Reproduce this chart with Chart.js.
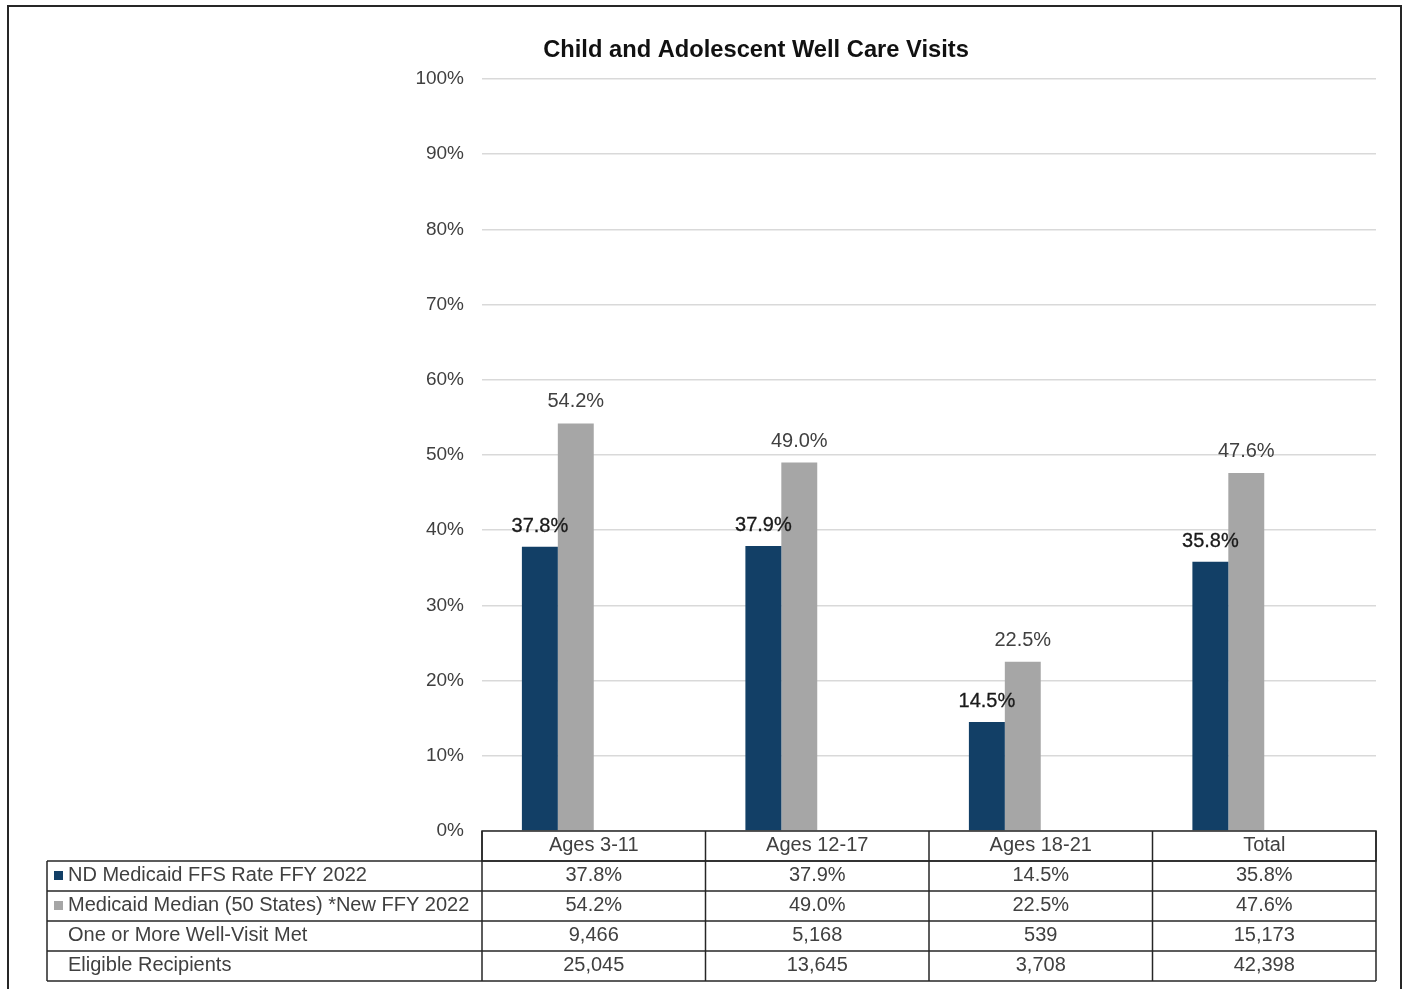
<!DOCTYPE html>
<html>
<head>
<meta charset="utf-8">
<title>Child and Adolescent Well Care Visits</title>
<script src="https://cdn.jsdelivr.net/npm/chart.js@4.4.1/dist/chart.umd.min.js"></script>
<style>
  html, body { margin: 0; padding: 0; background: #fff; overflow: hidden; }
  canvas { display: block; }
</style>
</head>
<body>
<canvas id="wellCareChart" width="1410" height="989"></canvas>
<script>
const chartTitle = 'Child and Adolescent Well Care Visits';
const categories = ['Ages 3-11', 'Ages 12-17', 'Ages 18-21', 'Total'];
const seriesNames = [
    'ND Medicaid FFS Rate FFY 2022',
    'Medicaid Median (50 States) *New FFY 2022',
    'One or More Well-Visit Met',
    'Eligible Recipients'
];
const ndRate = [37.8, 37.9, 14.5, 35.8];
const medianRate = [54.2, 49.0, 22.5, 47.6];
const wellVisitMet = [9466, 5168, 539, 15173];
const eligibleRecipients = [25045, 13645, 3708, 42398];
const yTicks = [0, 10, 20, 30, 40, 50, 60, 70, 80, 90, 100];

const navy = '#123f66';
const grey = '#a6a6a6';
const fontFamily = "'Liberation Sans', Arial, sans-serif";

const pct = v => v.toFixed(1) + '%';
const count = v => v.toLocaleString('en-US');

// rows of the data table under the plot
const tableRows = [
    { name: seriesNames[0], key: navy, cells: ndRate.map(pct) },
    { name: seriesNames[1], key: grey, cells: medianRate.map(pct) },
    { name: seriesNames[2], key: null, cells: wellVisitMet.map(count) },
    { name: seriesNames[3], key: null, cells: eligibleRecipients.map(count) }
];

const frameAndTitle = {
    id: 'frameAndTitle',
    beforeDraw(chart) {
        const ctx = chart.ctx;
        ctx.save();
        ctx.fillStyle = '#ffffff';
        ctx.fillRect(0, 0, chart.width, chart.height);
        ctx.restore();
    },
    afterDraw(chart) {
        const ctx = chart.ctx;
        ctx.save();
        ctx.strokeStyle = '#262626';
        ctx.lineWidth = 2;
        ctx.strokeRect(8, 6, 1393, chart.height + 20);
        ctx.fillStyle = '#111111';
        ctx.font = 'bold 23.7px ' + fontFamily;
        ctx.textAlign = 'center';
        ctx.textBaseline = 'middle';
        ctx.fillText(chartTitle, 756, 50);
        ctx.restore();
    }
};

const barLabels = {
    id: 'barLabels',
    afterDatasetsDraw(chart) {
        const ctx = chart.ctx;
        ctx.save();
        ctx.font = '20px ' + fontFamily;
        ctx.textAlign = 'center';
        ctx.textBaseline = 'alphabetic';
        [0, 1].forEach(i => {
            const meta = chart.getDatasetMeta(i);
            const values = chart.data.datasets[i].data;
            ctx.fillStyle = i === 0 ? '#1a1a1a' : '#404040';
            ctx.strokeStyle = '#1a1a1a';
            ctx.lineWidth = 0.3;
            meta.data.forEach((bar, j) => {
                const y = bar.y - (i === 0 ? 15 : 16);
                ctx.fillText(pct(values[j]), bar.x, y);
                // navy series labels look a touch heavier in the original
                if (i === 0) ctx.strokeText(pct(values[j]), bar.x, y);
            });
        });
        ctx.restore();
    }
};

const dataTable = {
    id: 'dataTable',
    afterDraw(chart) {
        const ctx = chart.ctx;
        const area = chart.chartArea;
        const xScale = chart.scales.x;
        const colW = (area.right - area.left) / categories.length;
        const rowH = 30;
        const top = area.bottom;
        const bodyTop = top + rowH;
        const bottom = bodyTop + rowH * tableRows.length;
        const tableLeft = 47;

        ctx.save();
        ctx.strokeStyle = '#262626';
        ctx.lineWidth = 1.5;

        // header row
        ctx.strokeRect(area.left, top, area.right - area.left, rowH);
        // body rows
        for (let r = 0; r <= tableRows.length; r++) {
            ctx.beginPath();
            ctx.moveTo(tableLeft, bodyTop + r * rowH);
            ctx.lineTo(area.right, bodyTop + r * rowH);
            ctx.stroke();
        }
        ctx.beginPath();
        ctx.moveTo(tableLeft, bodyTop);
        ctx.lineTo(tableLeft, bottom);
        ctx.stroke();
        for (let c = 0; c <= categories.length; c++) {
            const x = area.left + c * colW;
            ctx.beginPath();
            ctx.moveTo(x, top);
            ctx.lineTo(x, bottom);
            ctx.stroke();
        }

        ctx.font = '20px ' + fontFamily;
        ctx.fillStyle = '#404040';
        ctx.textBaseline = 'middle';
        ctx.textAlign = 'center';
        categories.forEach((cat, j) => {
            ctx.fillText(cat, xScale.getPixelForValue(j), top + rowH / 2 - 1);
        });

        tableRows.forEach((row, r) => {
            const cy = bodyTop + r * rowH + rowH / 2 - 1;
            if (row.key) {
                ctx.fillStyle = row.key;
                ctx.fillRect(54, cy - 4, 9, 9);
            }
            ctx.fillStyle = '#404040';
            ctx.textAlign = 'left';
            ctx.fillText(row.name, 68, cy);
            ctx.textAlign = 'center';
            row.cells.forEach((txt, j) => {
                ctx.fillText(txt, xScale.getPixelForValue(j), cy);
            });
        });
        ctx.restore();
    }
};

const emptyRow = categories.map(() => null);

new Chart(document.getElementById('wellCareChart').getContext('2d'), {
    type: 'bar',
    data: {
        labels: categories,
        datasets: [
            { label: seriesNames[0], data: ndRate, backgroundColor: navy },
            { label: seriesNames[1], data: medianRate, backgroundColor: grey },
            // count rows only live in the table, but keep their slots like Excel does
            { label: seriesNames[2], data: emptyRow, backgroundColor: 'transparent' },
            { label: seriesNames[3], data: emptyRow, backgroundColor: 'transparent' }
        ]
    },
    options: {
        responsive: false,
        animation: false,
        devicePixelRatio: 1,
        layout: { padding: { top: 79, right: 34, left: 0, bottom: 0 } },
        datasets: {
            bar: { categoryPercentage: 0.643, barPercentage: 1.0, borderWidth: 0 }
        },
        scales: {
            x: {
                grid: { display: false },
                border: { display: false },
                ticks: { display: false },
                afterFit(scale) { scale.height = 158; }
            },
            y: {
                min: 0,
                max: 100,
                afterBuildTicks(scale) {
                    scale.ticks = yTicks.map(v => ({ value: v }));
                },
                grid: { color: '#d9d9d9', lineWidth: 1.5, drawTicks: false },
                border: { display: false },
                ticks: {
                    padding: 18,
                    color: '#404040',
                    font: { family: fontFamily, size: 19 },
                    callback: v => v + '%'
                },
                afterFit(scale) { scale.width = 482; }
            }
        },
        plugins: {
            legend: { display: false },
            title: { display: false },
            tooltip: { enabled: false }
        }
    },
    plugins: [frameAndTitle, barLabels, dataTable]
});
</script>
</body>
</html>
